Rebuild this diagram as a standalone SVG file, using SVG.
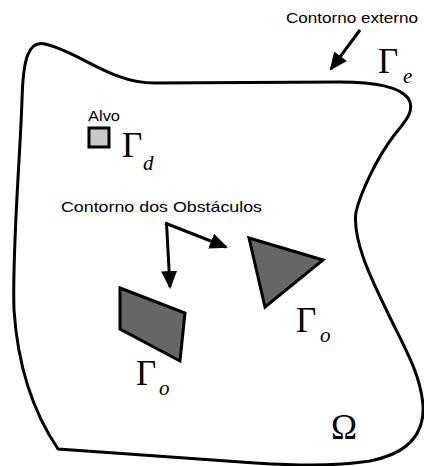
<svg xmlns="http://www.w3.org/2000/svg" width="424" height="466" viewBox="0 0 424 466">
<style>
.bd{fill:none;stroke:#000;stroke-width:3;stroke-linejoin:round}
.obs{fill:#666;stroke:#000;stroke-width:3;stroke-linejoin:miter}
.lbl{font-family:"Liberation Sans",Arial,sans-serif;fill:#000}
.g{font-family:"Liberation Serif","Times New Roman",serif;font-size:35px;fill:#000}
.s{font-family:"Liberation Serif","Times New Roman",serif;font-size:21px;font-style:italic;fill:#000}
.ar{fill:none;stroke:#000;stroke-width:3}
</style>
<defs>
<marker id="ah" markerUnits="userSpaceOnUse" markerWidth="20" markerHeight="18" refX="16" refY="8" orient="auto">
<path d="M0,0 L18,8 L0,16 Z" fill="#000"/>
</marker>
</defs>
<rect width="424" height="466" fill="#fff"/>
<g id="domain">
<path class="bd" d="M58,449 C35,415 18,370 14,310 C12,250 20,160 22,100 C23,60 28,40 45,44 C80,52 110,83 155,83 L340,82 C380,82 400,88 408,98 C416,110 405,122 395,134 C375,160 360,195 356,212 C352,240 372,280 385,307 C400,340 420,370 423,405 C425,440 400,455 370,461 C330,467 290,465 255,463 Z"/>
<text class="g" x="331" y="439">Ω</text>
</g>
<g id="external-label">
<text class="lbl" x="286" y="23" font-size="15" textLength="132" lengthAdjust="spacingAndGlyphs">Contorno externo</text>
<text class="g" x="378" y="73">Γ</text>
<text class="s" x="403" y="83">e</text>
</g>
<g id="target">
<text class="lbl" x="88" y="121" font-size="14" textLength="32" lengthAdjust="spacingAndGlyphs">Alvo</text>
<rect x="89" y="128" width="20" height="19" fill="#c8c8c8" stroke="#000" stroke-width="3"/>
<text class="g" x="122" y="157">Γ</text>
<text class="s" x="143" y="170">d</text>
</g>
<g id="obstacle-label">
<text class="lbl" x="61" y="212" font-size="15" textLength="201" lengthAdjust="spacingAndGlyphs">Contorno dos Obstáculos</text>
</g>
<g id="obstacle-triangle">
<polygon class="obs" points="249,238 323,260 265,307"/>
<text class="g" x="296" y="332">Γ</text>
<text class="s" x="320" y="342">o</text>
</g>
<g id="obstacle-quad">
<polygon class="obs" points="120,288 185,313 180,361 120,329"/>
<text class="g" x="136" y="385">Γ</text>
<text class="s" x="159" y="395">o</text>
</g>
<g id="connectors">
<line class="ar" x1="360" y1="30" x2="331" y2="69" marker-end="url(#ah)"/>
<line class="ar" x1="165" y1="223" x2="226" y2="247" marker-end="url(#ah)"/>
<line class="ar" x1="166.5" y1="223" x2="170" y2="287" marker-end="url(#ah)"/>
</g>
</svg>
